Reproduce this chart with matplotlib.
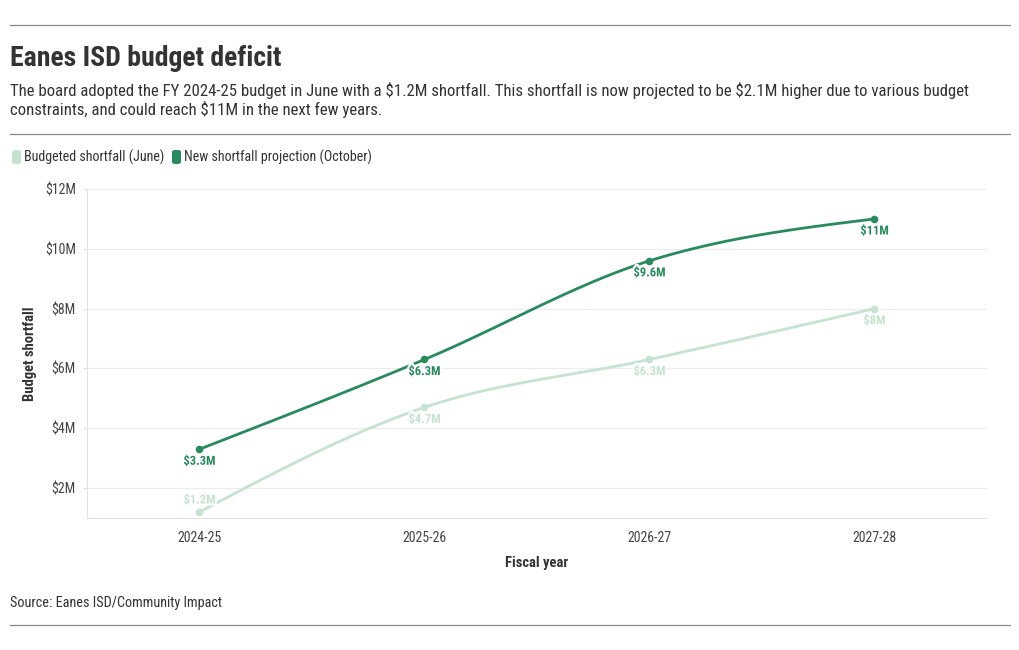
import matplotlib
matplotlib.use("Agg")
import matplotlib.pyplot as plt
import numpy as np
from matplotlib.lines import Line2D
from matplotlib.patches import FancyBboxPatch
import matplotlib.patheffects as pe

plt.rcParams['font.family'] = ['Roboto Condensed', 'Roboto', 'DejaVu Sans']

# ---- data ----
years = ["2024-25", "2025-26", "2026-27", "2027-28"]
june = [1.2, 4.7, 6.3, 8.0]
october = [3.3, 6.3, 9.6, 11.0]
june_labels = ["$1.2M", "$4.7M", "$6.3M", "$8M"]
october_labels = ["$3.3M", "$6.3M", "$9.6M", "$11M"]
yticks = [2, 4, 6, 8, 10, 12]
ytick_labels = ["$2M", "$4M", "$6M", "$8M", "$10M", "$12M"]
series_names = ["Budgeted shortfall (June)", "New shortfall projection (October)"]

LIGHT = "#c5e3cf"
DARK = "#2a8a5e"
TXT = "#333333"

W, H = 1020, 650
fig = plt.figure(figsize=(W / 100, H / 100), dpi=100)


def fx(px):
    return px / W


def fy(py):
    return 1 - py / H


def monotone(xs, ys, n=60):
    """d3 curveMonotoneX-style Hermite interpolation for drawing."""
    xs = np.asarray(xs, float)
    ys = np.asarray(ys, float)
    h = np.diff(xs)
    s = np.diff(ys) / h
    t = np.zeros(len(xs))
    for i in range(1, len(xs) - 1):
        p = (s[i - 1] * h[i] + s[i] * h[i - 1]) / (h[i - 1] + h[i])
        t[i] = (np.sign(s[i - 1]) + np.sign(s[i])) * min(abs(s[i - 1]), abs(s[i]), 0.5 * abs(p))
    t[0] = (3 * s[0] - t[1]) / 2
    t[-1] = (3 * s[-1] - t[-2]) / 2
    X, Y = [], []
    for i in range(len(xs) - 1):
        u = np.linspace(0, 1, n)
        h00 = 2 * u**3 - 3 * u**2 + 1
        h10 = u**3 - 2 * u**2 + u
        h01 = -2 * u**3 + 3 * u**2
        h11 = u**3 - u**2
        X.append(xs[i] + u * h[i])
        Y.append(h00 * ys[i] + h10 * h[i] * t[i] + h01 * ys[i + 1] + h11 * h[i] * t[i + 1])
    return np.concatenate(X), np.concatenate(Y)


# axes
ax = fig.add_axes([fx(87), fy(518), fx(987) - fx(87), fy(189) - fy(518)])
x = np.arange(len(years))
ax.set_xlim(-0.5, len(years) - 0.5)
ax.set_ylim(1.0, 12.0)

for vals, col, labs in [(june, LIGHT, june_labels), (october, DARK, october_labels)]:
    cx, cy = monotone(x, vals)
    ax.plot(cx, cy, color=col, lw=2.0, solid_capstyle='round', zorder=3)
    ax.scatter(x, vals, s=30, color=col, zorder=4, linewidths=0)
    for i, (xi, v, lab) in enumerate(zip(x, vals, labs)):
        above = v < 2.0
        ax.annotate(lab, (xi, v), xytext=(0, 4 if above else -4), textcoords='offset points',
                    ha='center', va='bottom' if above else 'top', fontsize=9, fontweight='bold',
                    color=col, zorder=5, parse_math=False,
                    path_effects=[pe.withStroke(linewidth=3, foreground='white')])

ax.set_yticks(yticks)
ax.set_yticklabels(ytick_labels)
ax.set_xticks(x)
ax.set_xticklabels(years)
ax.grid(axis='y', color='#ececec', lw=0.8, zorder=0)
ax.set_axisbelow(True)
for side in ['top', 'right']:
    ax.spines[side].set_visible(False)
for side in ['left', 'bottom']:
    ax.spines[side].set_color('#e2e2e2')
    ax.spines[side].set_linewidth(0.8)
ax.tick_params(axis='y', length=3, color='#e2e2e2', labelsize=10, labelcolor='#444444', pad=5)
ax.tick_params(axis='x', length=0, labelsize=10, labelcolor='#444444', pad=9)
ax.set_xlabel("Fiscal year", fontsize=10.5, fontweight='bold', color=TXT, labelpad=8)
ax.set_ylabel("Budget shortfall", fontsize=10.5, fontweight='bold', color=TXT, labelpad=6)

# rules
for py in [25, 134, 625]:
    fig.add_artist(Line2D([fx(10), fx(1010)], [fy(py), fy(py)], color='#8a8a8a', lw=0.9))

# title / subtitle
fig.text(fx(10), fy(66), "Eanes ISD budget deficit", fontsize=20, fontweight='bold', color=TXT,
         va='baseline', ha='left')
fig.text(fx(10), fy(96),
         "The board adopted the FY 2024-25 budget in June with a $1.2M shortfall. This shortfall is now projected to be $2.1M higher due to various budget",
         fontsize=12.1, color=TXT, va='baseline', ha='left', parse_math=False)
fig.text(fx(10), fy(115), "constraints, and could reach $11M in the next few years.",
         fontsize=12.1, color=TXT, va='baseline', ha='left', parse_math=False)

# legend
leg_x = [12, 172]
for lx, name, col in zip(leg_x, series_names, [LIGHT, DARK]):
    fig.add_artist(FancyBboxPatch((fx(lx), fy(164)), fx(9), fy(150) - fy(164),
                                  boxstyle="round,pad=0,rounding_size=0.003", transform=fig.transFigure,
                                  facecolor=col, edgecolor='none'))
    fig.text(fx(lx + 12), fy(157), name, fontsize=10.1, color=TXT, va='center', ha='left')

# source
fig.text(fx(10), fy(603), "Source: Eanes ISD/Community Impact", fontsize=10.3, color=TXT,
         va='center', ha='left')

fig.savefig("out.png", dpi=100, facecolor='white')
